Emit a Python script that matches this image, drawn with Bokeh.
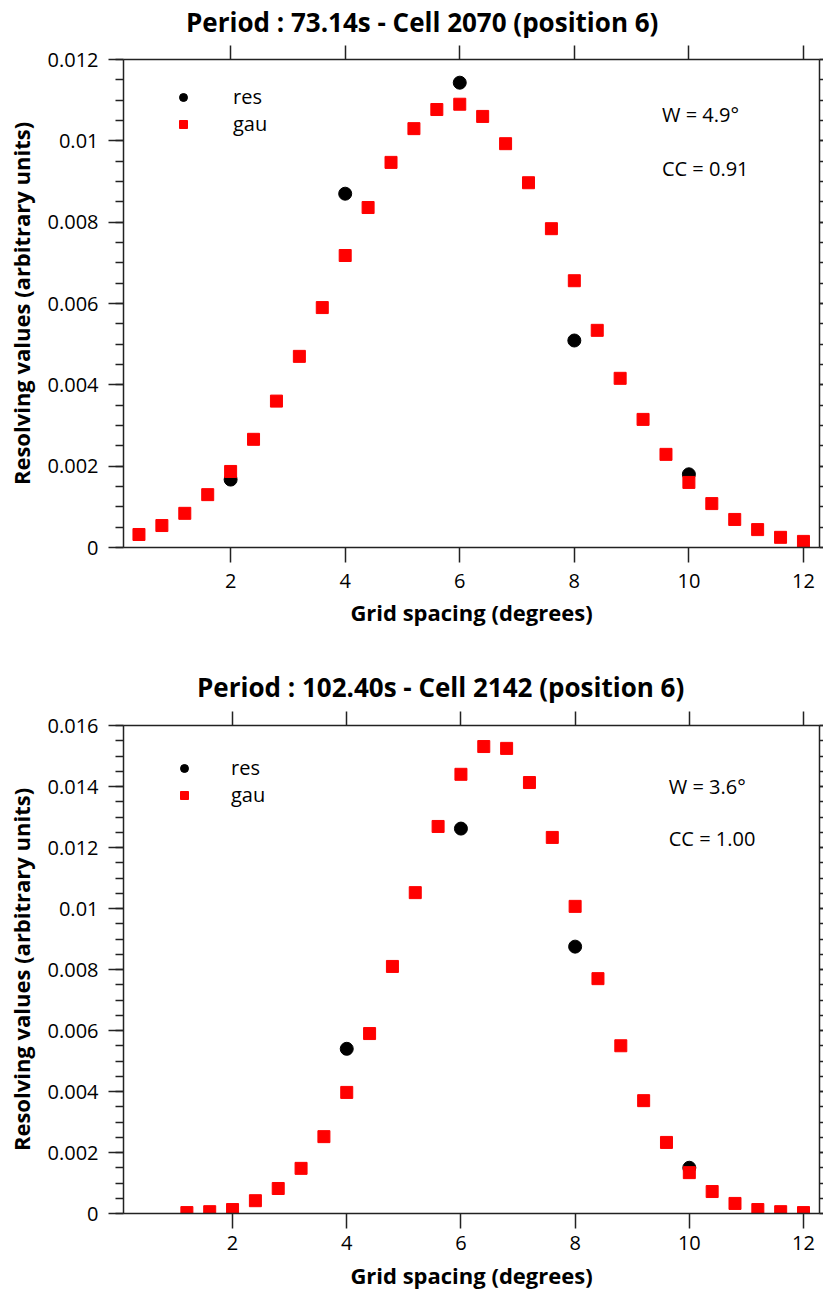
from bokeh.plotting import figure
from bokeh.models import (Range1d, LinearAxis, FixedTicker, CustomJSTickFormatter,
                          Legend, LegendItem, Label, Div)
from bokeh.layouts import column
from bokeh.embed import file_html
from bokeh.resources import INLINE

# ---------------- data ----------------
x_ticks = [2, 4, 6, 8, 10, 12]

# panel 1 : Period 73.14s - Cell 2070
title1 = "Period : 73.14s - Cell 2070 (position 6)"
res1_x = [2, 4, 6, 8, 10]
res1_y = [0.00167, 0.0087, 0.01143, 0.00509, 0.0018]
gau1_x = [0.4, 0.8, 1.2, 1.6, 2.0, 2.4, 2.8, 3.2, 3.6, 4.0, 4.4, 4.8, 5.2, 5.6, 6.0,
          6.4, 6.8, 7.2, 7.6, 8.0, 8.4, 8.8, 9.2, 9.6, 10.0, 10.4, 10.8, 11.2, 11.6, 12.0]
gau1_y = [0.00032, 0.00054, 0.00084, 0.0013, 0.00187, 0.00266, 0.0036, 0.0047, 0.0059, 0.00718,
          0.00836, 0.00947, 0.0103, 0.01077, 0.0109, 0.0106, 0.00993, 0.00897, 0.00784, 0.00656,
          0.00534, 0.00416, 0.00315, 0.00229, 0.0016, 0.00108, 0.00069, 0.00044, 0.00025, 0.00015]
y1_ticks = [0, 0.002, 0.004, 0.006, 0.008, 0.01, 0.012]
y1_minor = [i * 0.0005 for i in range(25)]
w1_text = "W = 4.9°"
cc1_text = "CC = 0.91"

# panel 2 : Period 102.40s - Cell 2142
title2 = "Period : 102.40s - Cell 2142 (position 6)"
res2_x = [4, 6, 8, 10]
res2_y = [0.0054, 0.01262, 0.00875, 0.0015]
gau2_x = [1.2, 1.6, 2.0, 2.4, 2.8, 3.2, 3.6, 4.0, 4.4, 4.8, 5.2, 5.6, 6.0, 6.4,
          6.8, 7.2, 7.6, 8.0, 8.4, 8.8, 9.2, 9.6, 10.0, 10.4, 10.8, 11.2, 11.6, 12.0]
gau2_y = [0.00003, 0.00006, 0.00013, 0.00042, 0.00082, 0.00148, 0.00252, 0.00397, 0.0059, 0.0081,
          0.01052, 0.01269, 0.0144, 0.01531, 0.01525, 0.01413, 0.01233, 0.01007, 0.0077, 0.0055,
          0.0037, 0.00233, 0.00134, 0.00072, 0.00033, 0.00013, 0.00006, 0.00003]
y2_ticks = [0, 0.002, 0.004, 0.006, 0.008, 0.01, 0.012, 0.014, 0.016]
y2_minor = [i * 0.0005 for i in range(33)]
w2_text = "W = 3.6°"
cc2_text = "CC = 1.00"

FONT = "Open Sans"
AX = "#222222"


def blank_axis(ax, tick_len, minor_len):
    ax.formatter = CustomJSTickFormatter(code="return '';")
    ax.major_label_text_font_size = "0px"
    ax.major_label_standoff = 0
    ax.major_tick_in = 0
    ax.major_tick_out = tick_len
    ax.minor_tick_in = 0
    ax.minor_tick_out = minor_len
    ax.axis_line_color = AX
    ax.axis_line_width = 1.5
    ax.major_tick_line_color = AX
    ax.major_tick_line_width = 1.5
    ax.minor_tick_line_color = AX
    ax.minor_tick_line_width = 1.5


def title_div(text, height, left, top):
    html = ('<div style="padding-left:%dpx;padding-top:%dpx;font-family:\'Open Sans\';'
            'font-weight:bold;font-size:26px;line-height:1;color:black;white-space:nowrap;">'
            '%s</div>' % (left, top, text))
    return Div(text=html, width=823, height=height, margin=(0, 0, 0, 0))


def make_panel(xr, yr, yt, ym, rx, ry, gx, gy, w_text, cc_text, txt_pos,
               height, b_left, b_top, b_bottom, xl_so, xa_so,
               leg_margin, leg_gw, leg_so):
    p = figure(width=823, height=height, output_backend="svg", toolbar_location=None,
               x_range=Range1d(*xr), y_range=Range1d(*yr),
               x_axis_type=None, y_axis_type=None,
               min_border_left=b_left, min_border_right=4,
               min_border_top=b_top, min_border_bottom=b_bottom)
    p.outline_line_color = None
    p.xgrid.visible = False
    p.ygrid.visible = False
    p.background_fill_color = "white"
    p.border_fill_color = "white"

    xt = FixedTicker(ticks=x_ticks, minor_ticks=[])
    ytk = FixedTicker(ticks=yt, minor_ticks=ym)

    # bottom axis
    xb = LinearAxis(ticker=xt, axis_label="Grid spacing (degrees)")
    xb.major_tick_in = 0
    xb.major_tick_out = 15
    xb.minor_tick_out = 0
    xb.major_label_standoff = xl_so
    xb.major_label_text_font = FONT
    xb.major_label_text_font_size = "20px"
    xb.major_label_text_color = "black"
    xb.axis_label_text_font = FONT
    xb.axis_label_text_font_size = "22px"
    xb.axis_label_text_font_style = "bold"
    xb.axis_label_text_color = "black"
    xb.axis_label_standoff = xa_so
    xb.axis_line_color = AX
    xb.axis_line_width = 1.5
    xb.major_tick_line_color = AX
    xb.major_tick_line_width = 1.5
    p.add_layout(xb, "below")

    # left axis
    yl = LinearAxis(ticker=ytk, axis_label="Resolving values (arbitrary units)")
    yl.formatter = CustomJSTickFormatter(code="return parseFloat(tick.toFixed(4)).toString();")
    yl.major_tick_in = 0
    yl.major_tick_out = 15
    yl.minor_tick_in = 0
    yl.minor_tick_out = 8
    yl.major_label_standoff = 10
    yl.major_label_text_font = FONT
    yl.major_label_text_font_size = "20px"
    yl.major_label_text_color = "black"
    yl.axis_label_text_font = FONT
    yl.axis_label_text_font_size = "22px"
    yl.axis_label_text_font_style = "bold"
    yl.axis_label_text_color = "black"
    yl.axis_label_standoff = 9
    yl.axis_line_color = AX
    yl.axis_line_width = 1.5
    yl.major_tick_line_color = AX
    yl.major_tick_line_width = 1.5
    yl.minor_tick_line_color = AX
    yl.minor_tick_line_width = 1.5
    p.add_layout(yl, "left")

    # top axis (ticks only)
    xa = LinearAxis(ticker=FixedTicker(ticks=x_ticks, minor_ticks=[]))
    blank_axis(xa, 14, 0)
    p.add_layout(xa, "above")

    # right axis (ticks only, clipped by window edge)
    yr_ax = LinearAxis(ticker=FixedTicker(ticks=yt, minor_ticks=ym))
    blank_axis(yr_ax, 4, 4)
    p.add_layout(yr_ax, "right")

    r_res = p.scatter(rx, ry, marker="circle", size=13, fill_color="black", line_color="black")
    r_gau = p.scatter(gx, gy, marker="square", size=12, fill_color="#ff0000", line_color="#ff0000")

    leg = Legend(items=[LegendItem(label="res", renderers=[r_res]),
                        LegendItem(label="gau", renderers=[r_gau])],
                 location="top_left", margin=leg_margin, padding=0,
                 glyph_width=leg_gw, glyph_height=20, label_height=20, spacing=0,
                 label_standoff=leg_so, border_line_color=None, background_fill_alpha=0,
                 label_text_font=FONT, label_text_font_size="20px", label_text_color="black")
    p.add_layout(leg)

    (wx, wy), (cx, cy) = txt_pos
    p.add_layout(Label(x=wx, y=wy, text=w_text, text_baseline="middle", text_font=FONT,
                       text_font_size="20px", text_color="black"))
    p.add_layout(Label(x=cx, y=cy, text=cc_text, text_baseline="middle", text_font=FONT,
                       text_font_size="20px", text_color="black"))
    return p


d1 = title_div(title1, 44, 186, 9)
p1 = make_panel((0.13, 12.28), (0, 0.012), y1_ticks, y1_minor,
                res1_x, res1_y, gau1_x, gau1_y, w1_text, cc1_text,
                ((9.53, 0.01064), (9.53, 0.00932)),
                height=596, b_left=118, b_top=15, b_bottom=93,
                xl_so=11, xa_so=6,
                leg_margin=24, leg_gw=72, leg_so=14)
d2 = title_div(title2, 66, 197, 34)
p2 = make_panel((0.09, 12.28), (0, 0.016), y2_ticks, y2_minor,
                res2_x, res2_y, gau2_x, gau2_y, w2_text, cc2_text,
                ((9.64, 0.0140), (9.64, 0.0123)),
                height=587, b_left=123, b_top=19, b_bottom=80,
                xl_so=7, xa_so=7,
                leg_margin=29, leg_gw=64, leg_so=15)

layout = column(d1, p1, d2, p2, spacing=0)
open("out.html", "w").write(file_html(layout, INLINE))
